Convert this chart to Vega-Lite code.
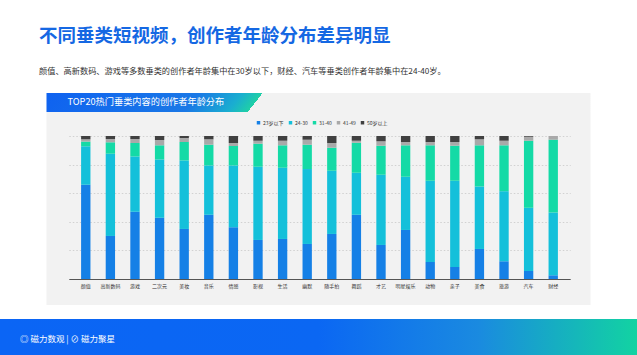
{
  "$schema": "https://vega.github.io/schema/vega-lite/v6.json",
  "background": "white",
  "padding": {"top": 27, "left": 0, "right": 0, "bottom": 0},
  "title": {
    "text": "不同垂类短视频，创作者年龄分布差异明显",
    "subtitle": "颜值、高新数码、游戏等多数垂类的创作者年龄集中在30岁以下，财经、汽车等垂类创作者年龄集中在24-40岁。",
    "anchor": "start",
    "frame": "group",
    "dx": 39,
    "font": "Noto Sans CJK SC",
    "fontSize": 18.5,
    "fontWeight": "bold",
    "color": "#1568e3",
    "subtitleFont": "Noto Sans CJK SC",
    "subtitleFontSize": 8.2,
    "subtitleColor": "#333333",
    "subtitlePadding": 22,
    "offset": 18
  },
  "datasets": {
    "ages": [
      {"cat": "颜值", "age": "23岁以下", "pct": 65.9}, {"cat": "颜值", "age": "24-30", "pct": 26.9}, {"cat": "颜值", "age": "31-40", "pct": 3.3}, {"cat": "颜值", "age": "41-49", "pct": 1.6}, {"cat": "颜值", "age": "50岁以上", "pct": 2.3},
      {"cat": "高新数码", "age": "23岁以下", "pct": 30.1}, {"cat": "高新数码", "age": "24-30", "pct": 57.5}, {"cat": "高新数码", "age": "31-40", "pct": 8.0}, {"cat": "高新数码", "age": "41-49", "pct": 2.3}, {"cat": "高新数码", "age": "50岁以上", "pct": 2.1},
      {"cat": "游戏", "age": "23岁以下", "pct": 47.0}, {"cat": "游戏", "age": "24-30", "pct": 38.7}, {"cat": "游戏", "age": "31-40", "pct": 9.4}, {"cat": "游戏", "age": "41-49", "pct": 2.8}, {"cat": "游戏", "age": "50岁以上", "pct": 2.1},
      {"cat": "二次元", "age": "23岁以下", "pct": 42.8}, {"cat": "二次元", "age": "24-30", "pct": 40.8}, {"cat": "二次元", "age": "31-40", "pct": 9.9}, {"cat": "二次元", "age": "41-49", "pct": 3.7}, {"cat": "二次元", "age": "50岁以上", "pct": 2.8},
      {"cat": "美妆", "age": "23岁以下", "pct": 35.0}, {"cat": "美妆", "age": "24-30", "pct": 47.9}, {"cat": "美妆", "age": "31-40", "pct": 12.9}, {"cat": "美妆", "age": "41-49", "pct": 2.8}, {"cat": "美妆", "age": "50岁以上", "pct": 1.4},
      {"cat": "音乐", "age": "23岁以下", "pct": 44.9}, {"cat": "音乐", "age": "24-30", "pct": 34.5}, {"cat": "音乐", "age": "31-40", "pct": 14.5}, {"cat": "音乐", "age": "41-49", "pct": 3.8}, {"cat": "音乐", "age": "50岁以上", "pct": 2.3},
      {"cat": "情感", "age": "23岁以下", "pct": 36.2}, {"cat": "情感", "age": "24-30", "pct": 43.2}, {"cat": "情感", "age": "31-40", "pct": 13.6}, {"cat": "情感", "age": "41-49", "pct": 2.1}, {"cat": "情感", "age": "50岁以上", "pct": 4.9},
      {"cat": "影视", "age": "23岁以下", "pct": 27.3}, {"cat": "影视", "age": "24-30", "pct": 51.2}, {"cat": "影视", "age": "31-40", "pct": 16.1}, {"cat": "影视", "age": "41-49", "pct": 2.1}, {"cat": "影视", "age": "50岁以上", "pct": 3.3},
      {"cat": "生活", "age": "23岁以下", "pct": 28.0}, {"cat": "生活", "age": "24-30", "pct": 49.8}, {"cat": "生活", "age": "31-40", "pct": 15.7}, {"cat": "生活", "age": "41-49", "pct": 3.2}, {"cat": "生活", "age": "50岁以上", "pct": 3.3},
      {"cat": "幽默", "age": "23岁以下", "pct": 24.5}, {"cat": "幽默", "age": "24-30", "pct": 52.4}, {"cat": "幽默", "age": "31-40", "pct": 17.0}, {"cat": "幽默", "age": "41-49", "pct": 3.5}, {"cat": "幽默", "age": "50岁以上", "pct": 2.6},
      {"cat": "随手拍", "age": "23岁以下", "pct": 31.5}, {"cat": "随手拍", "age": "24-30", "pct": 44.2}, {"cat": "随手拍", "age": "31-40", "pct": 16.1}, {"cat": "随手拍", "age": "41-49", "pct": 3.3}, {"cat": "随手拍", "age": "50岁以上", "pct": 4.9},
      {"cat": "舞蹈", "age": "23岁以下", "pct": 44.9}, {"cat": "舞蹈", "age": "24-30", "pct": 29.4}, {"cat": "舞蹈", "age": "31-40", "pct": 21.0}, {"cat": "舞蹈", "age": "41-49", "pct": 1.4}, {"cat": "舞蹈", "age": "50岁以上", "pct": 3.3},
      {"cat": "才艺", "age": "23岁以下", "pct": 23.8}, {"cat": "才艺", "age": "24-30", "pct": 49.1}, {"cat": "才艺", "age": "31-40", "pct": 20.3}, {"cat": "才艺", "age": "41-49", "pct": 3.1}, {"cat": "才艺", "age": "50岁以上", "pct": 3.7},
      {"cat": "明星娱乐", "age": "23岁以下", "pct": 34.3}, {"cat": "明星娱乐", "age": "24-30", "pct": 37.2}, {"cat": "明星娱乐", "age": "31-40", "pct": 22.0}, {"cat": "明星娱乐", "age": "41-49", "pct": 2.3}, {"cat": "明星娱乐", "age": "50岁以上", "pct": 4.2},
      {"cat": "动物", "age": "23岁以下", "pct": 11.9}, {"cat": "动物", "age": "24-30", "pct": 56.8}, {"cat": "动物", "age": "31-40", "pct": 24.8}, {"cat": "动物", "age": "41-49", "pct": 2.3}, {"cat": "动物", "age": "50岁以上", "pct": 4.2},
      {"cat": "亲子", "age": "23岁以下", "pct": 8.4}, {"cat": "亲子", "age": "24-30", "pct": 60.3}, {"cat": "亲子", "age": "31-40", "pct": 24.5}, {"cat": "亲子", "age": "41-49", "pct": 2.6}, {"cat": "亲子", "age": "50岁以上", "pct": 4.2},
      {"cat": "美食", "age": "23岁以下", "pct": 21.0}, {"cat": "美食", "age": "24-30", "pct": 43.7}, {"cat": "美食", "age": "31-40", "pct": 28.8}, {"cat": "美食", "age": "41-49", "pct": 4.2}, {"cat": "美食", "age": "50岁以上", "pct": 2.3},
      {"cat": "旅游", "age": "23岁以下", "pct": 12.4}, {"cat": "旅游", "age": "24-30", "pct": 49.0}, {"cat": "旅游", "age": "31-40", "pct": 32.1}, {"cat": "旅游", "age": "41-49", "pct": 3.2}, {"cat": "旅游", "age": "50岁以上", "pct": 3.3},
      {"cat": "汽车", "age": "23岁以下", "pct": 5.6}, {"cat": "汽车", "age": "24-30", "pct": 44.2}, {"cat": "汽车", "age": "31-40", "pct": 46.9}, {"cat": "汽车", "age": "41-49", "pct": 2.8}, {"cat": "汽车", "age": "50岁以上", "pct": 0.5},
      {"cat": "财经", "age": "23岁以下", "pct": 2.6}, {"cat": "财经", "age": "24-30", "pct": 43.9}, {"cat": "财经", "age": "31-40", "pct": 50.9}, {"cat": "财经", "age": "41-49", "pct": 2.6}, {"cat": "财经", "age": "50岁以上", "pct": 0.0}
    ]
  },
  "vconcat": [
    {
      "spacing": 0,
      "vconcat": [
        {
          "width": 544,
          "height": 19,
          "data": {"values": [{"label": "TOP20热门垂类内容的创作者年龄分布"}]},
          "mark": {"type": "text", "opacity": 0},
          "encoding": {"text": {"field": "label"}},
          "view": {"stroke": null, "fill": {"gradient": "linear", "x1": 0, "y1": 0, "x2": 1, "y2": 0.0275, "stops": [{"offset": 0, "color": "#0f62f0"}, {"offset": 0.28, "color": "#1a78e6"}, {"offset": 0.36, "color": "#1aaed0"}, {"offset": 0.397, "color": "#1fd0a6"}, {"offset": 0.397, "color": "#f2f2f2"}, {"offset": 1, "color": "#f2f2f2"}]}},
          "title": {"text": "TOP20热门垂类内容的创作者年龄分布", "anchor": "start", "frame": "group", "dx": 21, "offset": -14, "color": "white", "font": "Noto Sans CJK SC", "fontSize": 9.2, "fontWeight": "normal"}
        },
        {
          "width": 544,
          "height": 193,
          "data": {"name": "ages"},
          "view": {"stroke": null, "fill": "#f2f2f2"},
          "mark": {"type": "bar"},
          "encoding": {
            "x": {
              "field": "cat", "type": "nominal",
              "sort": ["颜值", "高新数码", "游戏", "二次元", "美妆", "音乐", "情感", "影视", "生活", "幽默", "随手拍", "舞蹈", "才艺", "明星娱乐", "动物", "亲子", "美食", "旅游", "汽车", "财经"],
              "scale": {"paddingInner": 0.62, "paddingOuter": 0.5, "range": [22.3, 523.7]},
              "axis": {"title": null, "orient": "bottom", "offset": -26, "labelAngle": 0, "labelFontSize": 5, "labelColor": "#333333", "labelFont": "Noto Sans CJK SC", "labelPadding": 4, "ticks": false, "domain": false, "grid": false}
            },
            "y": {
              "field": "pct", "type": "quantitative", "stack": "normalize",
              "scale": {"domain": [-0.1818, 1.1678], "nice": false, "zero": false},
              "axis": {"title": null, "labels": false, "ticks": false, "domain": false, "values": [0, 0.2, 0.4, 0.6, 0.8, 1], "grid": true,
                "gridColor": {"condition": {"test": "datum.value === 0", "value": "#555555"}, "value": "#c8c8c8"},
                "gridDash": {"condition": {"test": "datum.value === 0", "value": []}, "value": [1.5, 2]},
                "gridWidth": {"condition": {"test": "datum.value === 0", "value": 1}, "value": 0.8}}
            },
            "order": {"field": "age", "sort": "ascending"},
            "color": {
              "field": "age", "type": "nominal",
              "sort": ["23岁以下", "24-30", "31-40", "41-49", "50岁以上"],
              "scale": {"domain": ["23岁以下", "24-30", "31-40", "41-49", "50岁以上"], "range": ["#1580e6", "#14c0da", "#14daa6", "#a9a9a9", "#404040"]},
              "legend": {"orient": "none", "legendX": 256, "legendY": 27, "direction": "horizontal", "columns": 5, "title": null, "symbolType": "square", "symbolSize": 12, "symbolStrokeWidth": 0, "labelFontSize": 5, "labelColor": "#333333", "labelFont": "Noto Sans CJK SC", "labelOffset": 2, "columnPadding": 4}
            }
          }
        }
      ]
    },
    {
      "width": 637,
      "height": 37,
      "data": {"values": [{"label": "磁力数观 | 磁力聚星"}]},
      "mark": {"type": "text", "opacity": 0},
      "encoding": {"text": {"field": "label"}},
      "view": {"stroke": null, "fill": {"gradient": "linear", "x1": 0, "y1": 0, "x2": 1, "y2": 0, "stops": [{"offset": 0, "color": "#0b65f5"}, {"offset": 0.5, "color": "#0b67f3"}, {"offset": 0.75, "color": "#1a8ae0"}, {"offset": 1, "color": "#12d3a2"}]}},
      "title": {"text": "◎ 磁力数观  |  ⊘ 磁力聚星", "anchor": "start", "frame": "group", "dx": 20, "offset": -24, "color": "white", "font": "Noto Sans CJK SC", "fontSize": 8.5, "fontWeight": "normal"}
    }
  ],
  "spacing": 14,
  "center": true,
  "config": {"view": {"stroke": null}, "font": "Noto Sans CJK SC"}
}
